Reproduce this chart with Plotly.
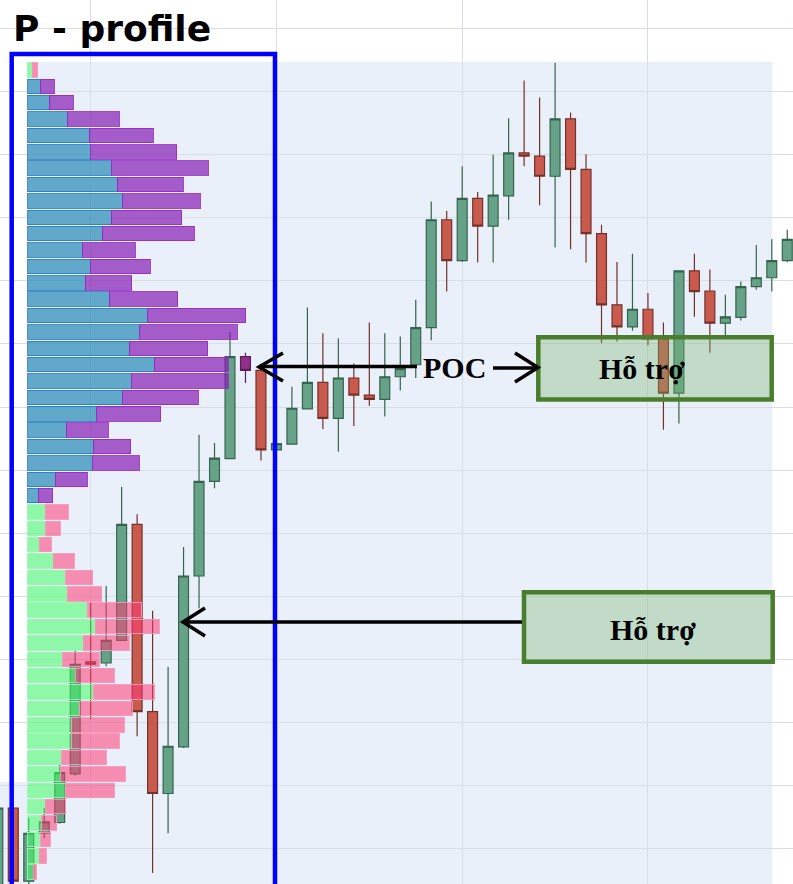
import plotly.graph_objects as go

W, H = 793, 884

# ---------------- candle data (bar index, OHLC) ----------------
candle_idx = list(range(52))
opens = [3.4, 16.4, 4.8, 12.4, 14.1, 21.8, 39.6, 39.4, 43.0, 61.4,
         31.7, 18.7, 26.1, 53.2, 68.2, 71.8, 88.0, 85.8, 73.2, 74.1,
         79.7, 83.9, 78.2, 84.6, 81.9, 81.2, 84.8, 86.7, 92.6, 109.7,
         103.2, 113.1, 108.7, 113.5, 120.3, 119.8, 116.6, 125.7, 117.7, 107.5,
         96.2, 92.7, 95.5, 90.8, 82.2, 101.6, 98.4, 93.3, 94.2, 99.1,
         100.5, 103.2]
highs = [16.4, 16.4, 14.8, 16.4, 23.4, 41.3, 49.1, 51.6, 67.3, 63.0,
         47.7, 38.8, 57.8, 75.6, 74.3, 91.9, 88.6, 85.8, 74.2, 83.2,
         95.8, 91.7, 90.9, 86.9, 93.4, 91.7, 91.2, 97.0, 112.6, 111.1,
         118.2, 114.1, 120.0, 125.8, 131.8, 129.1, 134.6, 126.7, 120.1, 108.9,
         103.0, 104.3, 98.1, 93.4, 101.6, 104.3, 101.8, 97.8, 99.9, 105.7,
         106.6, 108.1]
lows = [3.4, 4.2, 4.3, 11.6, 13.9, 21.5, 30.5, 38.9, 42.9, 27.8,
        6.1, 12.4, 25.9, 48.1, 67.1, 71.8, 83.8, 71.5, 73.2, 74.1,
        79.7, 76.5, 72.9, 77.0, 80.2, 78.5, 82.6, 84.6, 90.6, 98.3,
        103.0, 102.9, 102.9, 109.7, 118.2, 112.0, 105.3, 105.0, 102.9, 90.1,
        90.4, 92.1, 89.8, 76.4, 77.4, 94.3, 88.6, 91.4, 93.7, 98.6,
        98.3, 103.0]
closes = [16.4, 4.8, 12.4, 14.2, 22.0, 39.2, 39.2, 43.0, 61.4, 31.7,
          18.7, 26.2, 53.2, 68.2, 71.9, 88.0, 85.8, 73.2, 74.2, 79.8,
          83.9, 78.2, 84.6, 81.9, 81.2, 84.8, 86.1, 92.6, 109.7, 103.2,
          113.1, 108.7, 113.6, 120.3, 119.8, 116.6, 125.7, 117.7, 107.5, 96.2,
          92.7, 95.5, 90.8, 82.2, 101.6, 98.3, 93.3, 94.3, 99.1, 100.5,
          103.2, 106.6]
highlight_idx = [16]   # POC candle

# ---------------- volume profile ----------------
profile_levels = [133.45, 130.85, 128.26, 125.66, 123.06, 120.47, 117.87, 115.28, 112.68, 110.08,
                  107.49, 104.89, 102.29, 99.70, 97.10, 94.51, 91.91, 89.31, 86.72, 84.12,
                  81.52, 78.93, 76.33, 73.74, 71.14, 68.54, 65.95, 63.35, 60.75, 58.16,
                  55.56, 52.96, 50.37, 47.77, 45.18, 42.58, 39.98, 37.39, 34.79, 32.19,
                  29.60, 27.00, 24.41, 21.81, 19.21, 16.62, 14.02, 11.42, 8.83, 6.23]
buy_volume = [4.6, 13, 21.3, 40, 61.6, 63, 84, 89.6, 95, 83.3,
              74.3, 55, 63, 57.3, 81.3, 119.6, 111.6, 101.3, 126.3, 104,
              95, 69, 39, 65.6, 65, 28, 10.6, 17.3, 18, 11.6,
              25.6, 38, 39.6, 59.6, 67.3, 55.6, 35, 47.3, 65.6, 51.6,
              44, 44, 34, 32.3, 37.3, 17.3, 14, 13, 11.6, 5.6]
sell_volume = [5.4, 13.3, 24.3, 51.6, 64, 86, 96.6, 66, 77.3, 70.7,
               92, 52.3, 59.3, 46.7, 68.7, 98.4, 98, 78.7, 74.3, 96.6,
               75.6, 64, 41.6, 37.4, 46.6, 31.6, 14.4, 23.3, 14.3, 11.7,
               21, 27, 34.4, 54.4, 64, 46, 36.6, 39.3, 60.7, 53,
               52.3, 47.6, 44.3, 65, 49, 20, 15, 9.3, 6.7, 2.7]
upper_rows = list(range(1, 27))   # rows belonging to the upper (P) part of the profile

# ---------------- helpers (pixel -> paper) ----------------
def px(x):
    return x / W

def py(y):
    return 1 - y / H

fig = go.Figure()

main = [i for i in candle_idx if i not in highlight_idx]
fig.add_trace(go.Candlestick(
    x=main,
    open=[opens[i] for i in main], high=[highs[i] for i in main],
    low=[lows[i] for i in main], close=[closes[i] for i in main],
    increasing=dict(line=dict(color="#35634D", width=1.2), fillcolor="#66A288"),
    decreasing=dict(line=dict(color="#74302A", width=1.2), fillcolor="#C95A4E"),
    showlegend=False, hoverinfo="skip"))
fig.add_trace(go.Candlestick(
    x=highlight_idx,
    open=[opens[i] for i in highlight_idx], high=[highs[i] for i in highlight_idx],
    low=[lows[i] for i in highlight_idx], close=[closes[i] for i in highlight_idx],
    increasing=dict(line=dict(color="#5E1A5A", width=1.2), fillcolor="#93308A"),
    decreasing=dict(line=dict(color="#5E1A5A", width=1.2), fillcolor="#93308A"),
    showlegend=False, hoverinfo="skip"))

rows = list(range(len(profile_levels)))
upper = [r for r in rows if r in upper_rows]
lower = [r for r in rows if r not in upper_rows]

def bar(idx, vols, fill, edge):
    return go.Bar(y=[profile_levels[r] for r in idx], x=[vols[r] for r in idx],
                  orientation="h", xaxis="x2", yaxis="y",
                  marker=dict(color=fill, line=dict(color=edge, width=1)),
                  showlegend=False, hoverinfo="skip")

fig.add_trace(bar(lower, buy_volume, "rgba(65,255,102,0.55)", "rgba(150,250,175,0.9)"))
fig.add_trace(bar(upper, buy_volume, "rgba(40,137,182,0.7)", "rgba(40,125,190,0.85)"))
fig.add_trace(bar(lower, sell_volume, "rgba(252,60,116,0.55)", "rgba(250,150,185,0.9)"))
fig.add_trace(bar(upper, sell_volume, "rgba(134,29,179,0.7)", "rgba(150,40,200,0.85)"))

grid = "#D9DDE4"
shapes = [
    # white areas outside the light plot background
    dict(type="rect", xref="paper", yref="paper", x0=0, x1=1, y0=py(61.7), y1=1,
         fillcolor="white", line=dict(width=0), layer="below"),
    dict(type="rect", xref="paper", yref="paper", x0=px(772.3), x1=1, y0=0, y1=1,
         fillcolor="white", line=dict(width=0), layer="below"),
    dict(type="rect", xref="paper", yref="paper", x0=0, x1=px(27.5), y0=py(782), y1=1,
         fillcolor="white", line=dict(width=0), layer="below"),
    # blue frame around the profile
    dict(type="rect", xref="paper", yref="paper", x0=px(11.7), x1=px(275), y0=py(905), y1=py(54),
         line=dict(color="#0000FF", width=4.5), fillcolor="rgba(0,0,0,0)"),
    # support boxes
    dict(type="rect", xref="paper", yref="paper", x0=px(538.3), x1=px(771.7), y0=py(399.4), y1=py(337.3),
         line=dict(color="#4A7D2C", width=4.5), fillcolor="rgba(120,180,110,0.35)"),
    dict(type="rect", xref="paper", yref="paper", x0=px(524), x1=px(772.7), y0=py(661.7), y1=py(592.3),
         line=dict(color="#4A7D2C", width=4.5), fillcolor="rgba(120,180,110,0.35)"),
]

arrow_line = dict(color="black", width=3.5)
def seg(x0, y0, x1, y1):
    return dict(type="line", xref="paper", yref="paper", x0=px(x0), y0=py(y0), x1=px(x1), y1=py(y1),
                line=arrow_line)

def chevron(pts):
    d = "M " + " L ".join(f"{px(a):.5f},{py(b):.5f}" for a, b in pts)
    return dict(type="path", xref="paper", yref="paper", path=d, line=arrow_line,
                fillcolor="rgba(0,0,0,0)")

shapes += [
    seg(259, 366.5, 417, 366.5),
    chevron([(283, 353), (259, 367), (283, 381)]),
    seg(493, 368, 536, 368),
    chevron([(515, 353), (538, 367.5), (515, 382)]),
    seg(184, 622, 522, 622),
    chevron([(205, 608), (183, 622), (205, 636)]),
]

serif = "Liberation Serif"
annotations = [
    dict(text="<b>P - profile</b>", x=px(11), y=py(28), xref="paper", yref="paper",
         xanchor="left", yanchor="middle", showarrow=False,
         font=dict(family="DejaVu Sans", size=36, color="black")),
    dict(text="<b>POC</b>", x=px(454.8), y=py(367), xref="paper", yref="paper",
         xanchor="center", yanchor="middle", showarrow=False,
         font=dict(family=serif, size=30, color="black")),
    dict(text="<b>Hỗ trợ</b>", x=px(641.7), y=py(368), xref="paper", yref="paper",
         xanchor="center", yanchor="middle", showarrow=False,
         font=dict(family=serif, size=30, color="black")),
    dict(text="<b>Hỗ trợ</b>", x=px(652.5), y=py(629), xref="paper", yref="paper",
         xanchor="center", yanchor="middle", showarrow=False,
         font=dict(family=serif, size=30, color="black")),
]

fig.update_layout(
    width=W, height=H, margin=dict(l=0, r=0, t=0, b=0),
    paper_bgcolor="white", plot_bgcolor="#EAF0F9",
    barmode="stack", bargap=0.11, boxgap=0.36, boxgroupgap=0,
    showlegend=False, shapes=shapes, annotations=annotations,
    xaxis=dict(range=[0.142, 51.37], tick0=6, dtick=12, showgrid=True, gridcolor=grid, gridwidth=1.3,
               showticklabels=False, zeroline=False, showline=False, ticks="",
               rangeslider=dict(visible=False)),
    xaxis2=dict(overlaying="x", range=[-27.7, 765.3], visible=False),
    yaxis=dict(range=[4.35, 144.55], tick0=0, dtick=10, showgrid=True, gridcolor=grid, gridwidth=1.3,
               showticklabels=False, zeroline=False, showline=False, ticks=""),
)

fig.write_html("out.html", config={"displayModeBar": False},
               post_script="document.body.style.margin='0';document.body.style.overflow='hidden';")
